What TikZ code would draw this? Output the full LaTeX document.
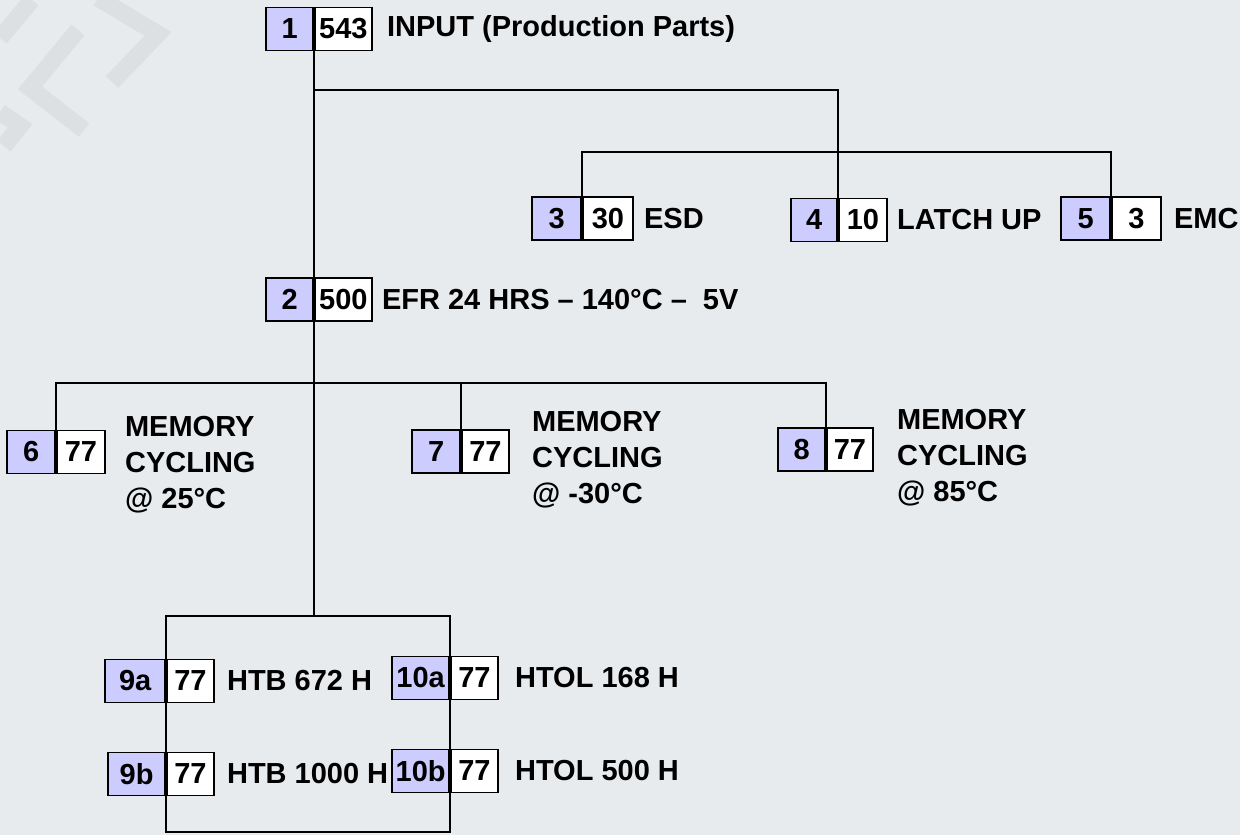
\documentclass[tikz,border=0pt]{standalone}
\usepackage{fontspec}
\setmainfont{Liberation Sans}
\usepackage{xcolor}
\usetikzlibrary{calc,positioning}
\definecolor{paper}{HTML}{E8EBEE}
\definecolor{idblue}{HTML}{CCCCFF}
\definecolor{logo}{HTML}{DDE0E3}
\tikzset{
  wire/.style={draw=black,line width=1.1pt},
  base/.style={draw=black,line width=1pt,minimum height=0.86cm,inner sep=0pt,text=black},
  idbox/.style={base,fill=idblue,minimum width=0.96cm},
  cntbox/.style={base,fill=white,minimum width=0.98cm,anchor=west},
  desc/.style={inner sep=0pt,anchor=west,align=left},
  logostroke/.style={draw=logo,line width=0.34cm}
}

\begin{document}
\begin{tikzpicture}[x=0.02cm,y=-0.02cm,font=\fontsize{16.5}{20.5}\selectfont\bfseries]
  \useasboundingbox (0,0) rectangle (1240,835);
  \fill[paper] (0,0) rectangle (1240,835);
  % faint logo in the corner
  \draw[logostroke] (78,30)--(30,88)--(84,130);
  \draw[logostroke] (98,-2)--(158,34)--(112,82);
  \draw[logostroke] (0,38)--(32,0);
  \draw[logostroke] (0,112)--(20,126)--(4,146);
  % bus heights
  \coordinate (bar0) at (0,90);
  \coordinate (bar1) at (0,152);
  \coordinate (bar2) at (0,383);
  \coordinate (bar3) at (0,616);
  \coordinate (bar4) at (0,832);
  % input and EFR
  \node[cntbox,minimum width=1.14cm] (c1) at (314,29) {543};
  \node[idbox,minimum width=0.94cm,left=0pt of c1] (n1) {1};
  \node[desc,right=0.28cm of c1] (t1) {INPUT (Production Parts)};
  \node[cntbox,minimum width=1.14cm] (c2) at (314,299.5) {500};
  \node[idbox,minimum width=0.94cm,left=0pt of c2] (n2) {2};
  \node[desc,right=0.18cm of c2] (t2) {EFR 24 HRS -- 140°C --\ \ 5V};
  % ESD, latch up, EMC
  \node[cntbox,minimum width=1.0cm] (c3) at (582,218.5) {30};
  \node[idbox,minimum width=0.98cm,left=0pt of c3] (n3) {3};
  \node[desc,right=0.2cm of c3] (t3) {ESD};
  \node[cntbox,minimum width=0.96cm] (c4) at (838,220) {10};
  \node[idbox,minimum width=0.92cm,left=0pt of c4] (n4) {4};
  \node[desc,right=0.18cm of c4] (t4) {LATCH UP};
  \node[cntbox] (c5) at (1111,218.5) {3};
  \node[idbox,minimum width=0.98cm,left=0pt of c5] (n5) {5};
  \node[desc,right=0.24cm of c5] (t5) {EMC};
  % memory cycling
  \node[cntbox,minimum width=0.96cm] (c6) at (56,452) {77};
  \node[idbox,left=0pt of c6] (n6) {6};
  \node[desc,right=0.38cm of c6,yshift=-0.26cm] (t6) {MEMORY\\CYCLING\\@ 25°C};
  \node[cntbox,minimum width=0.94cm] (c7) at (461,451.5) {77};
  \node[idbox,left=0pt of c7] (n7) {7};
  \node[desc,right=0.44cm of c7,yshift=-0.17cm] (t7) {MEMORY\\CYCLING\\@ -30°C};
  \node[cntbox,minimum width=0.92cm] (c8) at (826,449.5) {77};
  \node[idbox,minimum width=0.94cm,left=0pt of c8] (n8) {8};
  \node[desc,right=0.46cm of c8,yshift=-0.17cm] (t8) {MEMORY\\CYCLING\\@ 85°C};
  % HTB and HTOL
  \node[cntbox,minimum width=0.94cm] (c9a) at (166,681) {77};
  \node[idbox,minimum width=1.2cm,left=0pt of c9a] (n9a) {9a};
  \node[desc,right=0.24cm of c9a] (t9a) {HTB 672 H};
  \node[cntbox,minimum width=0.94cm] (c10a) at (450,678) {77};
  \node[idbox,minimum width=1.14cm,left=0pt of c10a] (n10a) {10a};
  \node[desc,right=0.32cm of c10a] (t10a) {HTOL 168 H};
  \node[cntbox,minimum width=0.94cm] (c9b) at (166,774) {77};
  \node[idbox,minimum width=1.14cm,left=0pt of c9b] (n9b) {9b};
  \node[desc,right=0.24cm of c9b] (t9b) {HTB 1000 H};
  \node[cntbox,minimum width=0.94cm] (c10b) at (450,771) {77};
  \node[idbox,minimum width=1.14cm,left=0pt of c10b] (n10b) {10b};
  \node[desc,right=0.32cm of c10b] (t10b) {HTOL 500 H};
  % connectors
  \draw[wire] (c1.south west)--(c2.north west);
  \draw[wire] (c1.south west |- bar0)--(c4.north west |- bar0)--(c4.north west);
  \draw[wire] (c3.north west)--(c3.north west |- bar1)--(c5.north west |- bar1)--(c5.north west);
  \draw[wire] (c2.south west)--(c2.south west |- bar3);
  \draw[wire] (c6.north west)--(c6.north west |- bar2)--(c8.north west |- bar2)--(c8.north west);
  \draw[wire] (c7.north west)--(c7.north west |- bar2);
  \draw[wire] (c9a.north west)--(c9a.north west |- bar3)--(c10a.north west |- bar3)--(c10a.north west);
  \draw[wire] (c9a.south west)--(c9b.north west);
  \draw[wire] (c10a.south west)--(c10b.north west);
  \draw[wire] (c9b.south west)--(c9b.south west |- bar4)--(c10b.south west |- bar4)--(c10b.south west);
\end{tikzpicture}
\end{document}
